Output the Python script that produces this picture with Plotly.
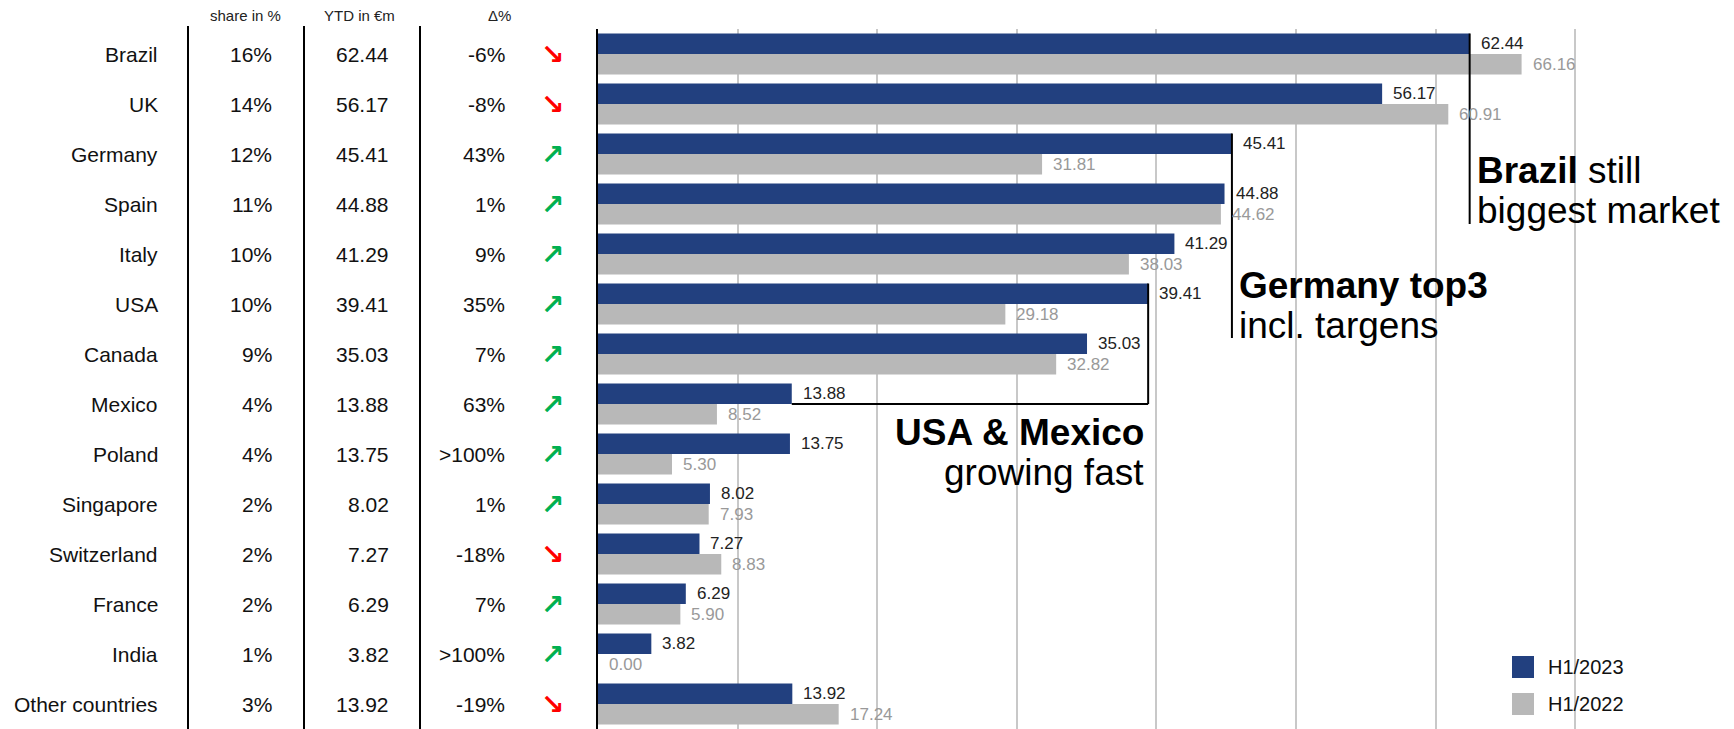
import plotly.graph_objects as go

# ---------------- data ----------------
countries = ["Brazil", "UK", "Germany", "Spain", "Italy", "USA", "Canada", "Mexico",
             "Poland", "Singapore", "Switzerland", "France", "India", "Other countries"]
h1_2023 = [62.44, 56.17, 45.41, 44.88, 41.29, 39.41, 35.03, 13.88, 13.75, 8.02, 7.27, 6.29, 3.82, 13.92]
h1_2022 = [66.16, 60.91, 31.81, 44.62, 38.03, 29.18, 32.82, 8.52, 5.30, 7.93, 8.83, 5.90, 0.00, 17.24]
share_pct = [16, 14, 12, 11, 10, 10, 9, 4, 4, 2, 2, 2, 1, 3]
delta_pct = ["-6%", "-8%", "43%", "1%", "9%", "35%", "7%", "63%", ">100%", "1%", "-18%", "7%", ">100%", "-19%"]
series_names = ["H1/2023", "H1/2022"]
header_labels = ["share in %", "YTD in €m", "Δ%"]

# ---------------- styling ----------------
W, H = 1734, 729
OFF = 8                      # page body margin
TOP = 21
BOTTOM = 8
PLOT_H = H - TOP - BOTTOM
BLUE = "#22407F"
GREY = "#B8B8B8"
FONT = "Liberation Sans"
AXIS_X = 598 - OFF
PX_PER_UNIT = 13.96
x_max = (W - AXIS_X) / PX_PER_UNIT


def pxx(s):
    """screen x pixel -> paper x"""
    return (s - OFF) / W


def pxy(s):
    """screen y pixel -> paper y"""
    return (TOP + PLOT_H - (s - OFF)) / PLOT_H


fig = go.Figure()
fig.add_bar(y=countries, x=h1_2023, orientation="h", name=series_names[0],
            marker=dict(color=BLUE, line=dict(width=0)))
fig.add_bar(y=countries, x=h1_2022, orientation="h", name=series_names[1],
            marker=dict(color=GREY, line=dict(width=0)))

ann = []
shapes = []
HALF = 0.205

# value labels
for i, (a, b) in enumerate(zip(h1_2023, h1_2022)):
    ann.append(dict(x=a, y=i - HALF, xref="x", yref="y", text=f"{a:.2f}", showarrow=False,
                    xanchor="left", yanchor="middle", xshift=9,
                    font=dict(family=FONT, size=17, color="#222222")))
    ann.append(dict(x=b, y=i + HALF, xref="x", yref="y", text=f"{b:.2f}", showarrow=False,
                    xanchor="left", yanchor="middle", xshift=9,
                    font=dict(family=FONT, size=17, color="#999999")))

# left table
col_x = {"name": 160, "share": 274, "ytd": 391, "delta": 507, "arrow": 552}
for i, c in enumerate(countries):
    tf = dict(family=FONT, size=21, color="#111111")
    ann.append(dict(x=pxx(col_x["name"]), y=i, xref="paper", yref="y", text=c, showarrow=False,
                    xanchor="right", yanchor="middle", font=tf))
    ann.append(dict(x=pxx(col_x["share"]), y=i, xref="paper", yref="y", text=f"{share_pct[i]}%",
                    showarrow=False, xanchor="right", yanchor="middle", font=tf))
    ann.append(dict(x=pxx(col_x["ytd"]), y=i, xref="paper", yref="y", text=f"{h1_2023[i]:.2f}",
                    showarrow=False, xanchor="right", yanchor="middle", font=tf))
    ann.append(dict(x=pxx(col_x["delta"]), y=i, xref="paper", yref="y", text=delta_pct[i],
                    showarrow=False, xanchor="right", yanchor="middle", font=tf))
    up = h1_2023[i] >= h1_2022[i]
    ann.append(dict(x=pxx(col_x["arrow"]), y=i, xref="paper", yref="y",
                    text="<b>↗</b>" if up else "<b>↘</b>", showarrow=False,
                    xanchor="center", yanchor="middle",
                    font=dict(family="DejaVu Sans", size=28,
                              color="#00B050" if up else "#FF0000")))

# headers
for label, xc in zip(header_labels, [245, 359, 499]):
    ann.append(dict(x=pxx(xc), y=pxy(15.5), xref="paper", yref="paper", text=label,
                    showarrow=False, xanchor="center", yanchor="middle",
                    font=dict(family=FONT, size=15, color="#222222")))

# table separators
for xl in [188, 304, 420]:
    shapes.append(dict(type="line", xref="paper", yref="paper", x0=pxx(xl), x1=pxx(xl),
                       y0=pxy(26), y1=0, line=dict(color="black", width=2)))

# callouts
i_br = countries.index("Brazil")
i_de = countries.index("Germany")
i_us = countries.index("USA")
i_mx = countries.index("Mexico")
lw = dict(color="black", width=2)
shapes.append(dict(type="line", xref="x", yref="y", x0=h1_2023[i_br], x1=h1_2023[i_br],
                   y0=i_br - 2 * HALF, y1=3.4, line=lw, layer="above"))
shapes.append(dict(type="line", xref="x", yref="y", x0=h1_2023[i_de], x1=h1_2023[i_de],
                   y0=i_de - 2 * HALF, y1=5.68, line=lw, layer="above"))
shapes.append(dict(type="line", xref="x", yref="y", x0=h1_2023[i_us], x1=h1_2023[i_us],
                   y0=i_us - 2 * HALF, y1=i_mx, line=lw, layer="above"))
shapes.append(dict(type="line", xref="x", yref="y", x0=h1_2023[i_mx], x1=h1_2023[i_us],
                   y0=i_mx, y1=i_mx, line=lw, layer="above"))

BIG = 37
bf = dict(family=FONT, size=BIG, color="black")
ann += [
    dict(x=h1_2023[i_br], y=2.32, xref="x", yref="y", xanchor="left", yanchor="middle", xshift=5,
         text="<b>Brazil</b> still", showarrow=False, font=bf),
    dict(x=h1_2023[i_br], y=3.12, xref="x", yref="y", xanchor="left", yanchor="middle", xshift=5,
         text="biggest market", showarrow=False, font=bf),
    dict(x=h1_2023[i_de], y=4.62, xref="x", yref="y", xanchor="left", yanchor="middle", xshift=5,
         text="<b>Germany top3</b>", showarrow=False, font=bf),
    dict(x=h1_2023[i_de], y=5.42, xref="x", yref="y", xanchor="left", yanchor="middle", xshift=5,
         text="incl. targens", showarrow=False, font=bf),
    dict(x=h1_2023[i_us], y=7.56, xref="x", yref="y", xanchor="right", yanchor="middle", xshift=-2,
         text="<b>USA &amp; Mexico</b>", showarrow=False, font=bf),
    dict(x=h1_2023[i_us], y=8.36, xref="x", yref="y", xanchor="right", yanchor="middle", xshift=-2,
         text="growing fast", showarrow=False, font=bf),
]

# manual legend
for name, col, yc in zip(series_names, [BLUE, GREY], [667, 704]):
    shapes.append(dict(type="rect", xref="paper", yref="paper", x0=pxx(1512), x1=pxx(1534),
                       y0=pxy(yc - 11), y1=pxy(yc + 11), fillcolor=col, line=dict(width=0)))
    ann.append(dict(x=pxx(1546), y=pxy(yc), xref="paper", yref="paper", text=name, showarrow=False,
                    xanchor="left", yanchor="middle", font=dict(family=FONT, size=20, color="#111111")))

fig.update_layout(
    width=W, height=H,
    margin=dict(l=0, r=0, t=TOP, b=BOTTOM),
    paper_bgcolor="white", plot_bgcolor="white",
    barmode="group", bargap=0.18, bargroupgap=0,
    showlegend=False,
    annotations=ann, shapes=shapes,
    font=dict(family=FONT),
    xaxis=dict(domain=[AXIS_X / W, 1], range=[0, x_max], tickvals=[10, 20, 30, 40, 50, 60, 70],
               showticklabels=False, showgrid=True, gridcolor="#C8C8C8", gridwidth=2,
               zeroline=False, showline=False, ticks=""),
    yaxis=dict(range=[13.5, -0.5], showticklabels=False, showgrid=False, zeroline=False,
               showline=True, linecolor="black", linewidth=2, ticks=""),
)

fig.write_html("out.html")
